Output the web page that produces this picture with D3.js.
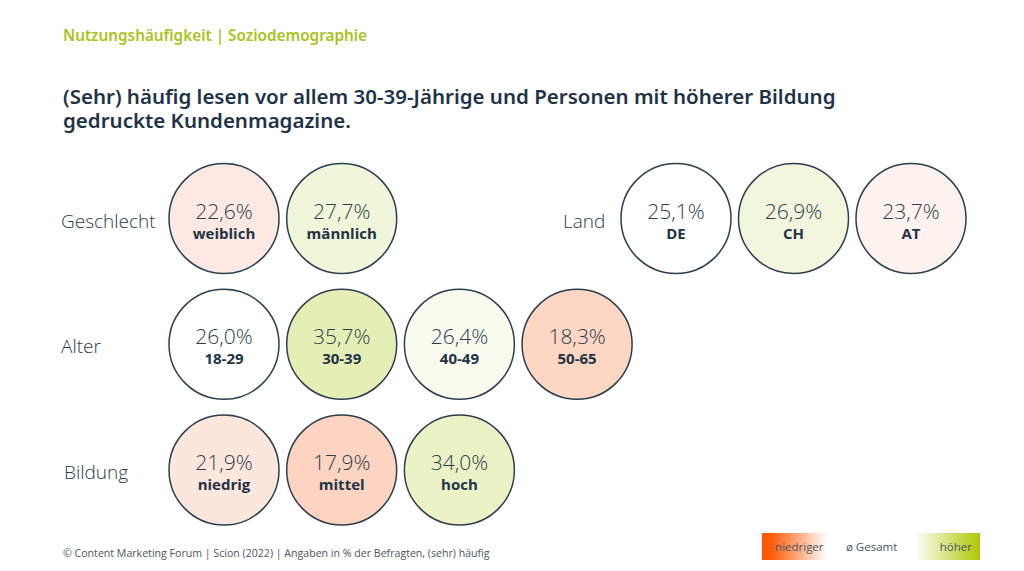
<!DOCTYPE html>
<html><head><meta charset="utf-8">
<script src="https://cdn.jsdelivr.net/npm/d3@7"></script>
<style>
html,body{margin:0;padding:0;background:#fff;}
svg{display:block;}
</style></head>
<body><svg id="c" width="1024" height="571"></svg>
<script>
// ---- data ----
const groups = ["Geschlecht", "Alter", "Bildung", "Land"];
const geschlechtLabels = ["weiblich", "männlich"];
const geschlechtValues = [22.6, 27.7];
const alterLabels = ["18-29", "30-39", "40-49", "50-65"];
const alterValues = [26.0, 35.7, 26.4, 18.3];
const bildungLabels = ["niedrig", "mittel", "hoch"];
const bildungValues = [21.9, 17.9, 34.0];
const landLabels = ["DE", "CH", "AT"];
const landValues = [25.1, 26.9, 23.7];
const legendLabels = ["niedriger", "ø Gesamt", "höher"];

const header = "Nutzungshäufigkeit | Soziodemographie";
const titleLines = ["(Sehr) häufig lesen vor allem 30-39-Jährige und Personen mit höherer Bildung", "gedruckte Kundenmagazine."];
const footer = "© Content Marketing Forum | Scion (2022) | Angaben in % der Befragten, (sehr) häufig";

// ---- drawing ----
const svg = d3.select("#c");
const dark = "#1f3347";
const fmt = v => d3.format(".1f")(v).replace(".", ",") + "%";

const color = d3.scaleLinear()
  .domain([17.9, 22.6, 23.7, 25.1, 26.0, 26.4, 26.9, 34.0, 35.7])
  .range(["#fdd4c1", "#fde9e1", "#fdf2ee", "#ffffff", "#fffffd", "#f9fbef", "#f1f6dc", "#ebf2c6", "#e5efb5"])
  .clamp(true);

const col = d3.scaleLinear().domain([0, 1]).range([224, 341.7]);
const row = d3.scalePoint().domain(["r0", "r1", "r2"]).range([218.5, 470]);
const landX = d3.scaleLinear().domain([0, 1]).range([676, 793.5]);
const R = 55;

const sets = [
  {name: groups[0], labels: geschlechtLabels, values: geschlechtValues, r: "r0", x: col, lx: 61},
  {name: groups[1], labels: alterLabels, values: alterValues, r: "r1", x: col, lx: 61},
  {name: groups[2], labels: bildungLabels, values: bildungValues, r: "r2", x: col, lx: 64},
  {name: groups[3], labels: landLabels, values: landValues, r: "r0", x: landX, lx: 563}
];

// header & title
svg.append("text").attr("x", 63).attr("y", 41)
  .attr("font-family", "Noto Sans").attr("font-weight", 600).attr("font-size", 15.3)
  .attr("fill", "#a9c31e").text(header);
titleLines.forEach((t, i) => {
  svg.append("text").attr("x", 63).attr("y", 104 + i * 24)
    .attr("font-family", "Noto Sans").attr("font-weight", 600).attr("font-size", 20.5)
    .attr("fill", dark).text(t);
});

sets.forEach(s => {
  const cy = row(s.r);
  svg.append("text").attr("x", s.lx).attr("y", cy + 9)
    .attr("font-family", "Open Sans").attr("font-weight", 300).attr("font-size", 19)
    .attr("fill", "#2a3a48").text(s.name);
  const g = svg.append("g").selectAll("g").data(s.values.map((v, i) => ({v, l: s.labels[i], i})))
    .join("g").attr("transform", d => `translate(${s.x(d.i)},${cy})`);
  g.append("circle").attr("r", R).attr("fill", d => color(d.v))
    .attr("stroke", "#2b3f4f").attr("stroke-width", 1.5);
  g.append("text").attr("y", 0).attr("text-anchor", "middle")
    .attr("font-family", "Open Sans").attr("font-weight", 300).attr("font-size", 21)
    .attr("fill", "#2a3d4d").text(d => fmt(d.v));
  g.append("text").attr("y", 20).attr("text-anchor", "middle")
    .attr("font-family", "Open Sans").attr("font-weight", 700).attr("font-size", 15)
    .attr("fill", dark).text(d => d.l);
});

// footer
svg.append("text").attr("x", 63).attr("y", 557)
  .attr("font-family", "Open Sans").attr("font-size", 10.6)
  .attr("fill", "#4a5560").text(footer);

// legend
const defs = svg.append("defs");
const grad = defs.append("linearGradient").attr("id", "lg").attr("x1", 0).attr("x2", 1);
[[0, "#ff5500"], [0.05, "#ff6010"], [0.3, "#ffffff"], [0.7, "#ffffff"], [1, "#afc700"]]
  .forEach(([o, c]) => grad.append("stop").attr("offset", o).attr("stop-color", c));
const lx = d3.scaleLinear().domain([0, 1]).range([762, 980]);
svg.append("rect").attr("x", lx(0)).attr("y", 533).attr("width", lx(1) - lx(0)).attr("height", 27)
  .attr("fill", "url(#lg)");
const legPos = [0.06, 0.385, 0.815];
legendLabels.forEach((t, i) => {
  svg.append("text").attr("x", lx(legPos[i])).attr("y", 551)
    .attr("font-family", "Open Sans").attr("font-size", 11.5)
    .attr("fill", "#4a5560").text(t);
});
</script></body></html>
